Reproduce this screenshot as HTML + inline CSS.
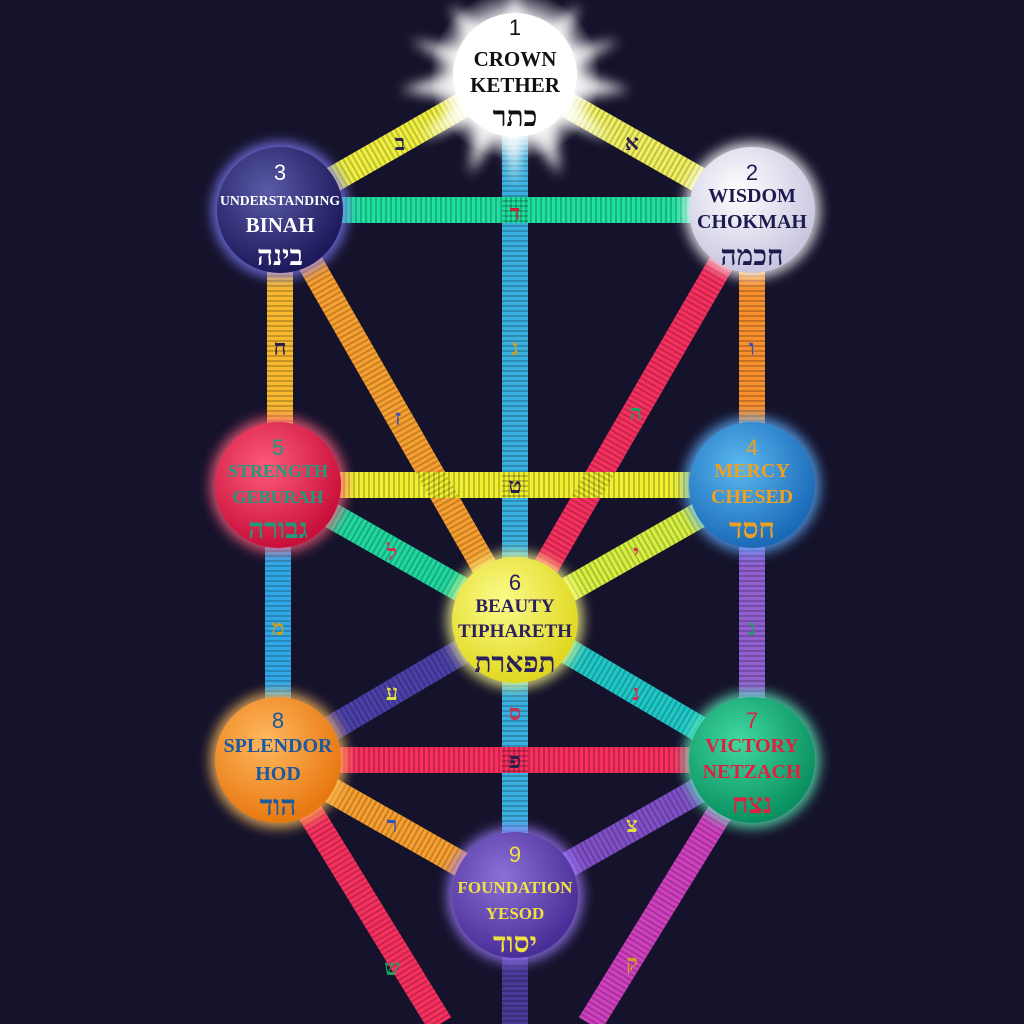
<!DOCTYPE html><html><head><meta charset="utf-8"><style>
html,body{margin:0;padding:0;background:#15122b;}
svg{display:block}
text{font-family:"Liberation Serif",serif;font-weight:bold;text-anchor:middle}
.h{font-family:"Liberation Serif","Noto Serif CJK SC",serif;font-size:28px}
.n{font-weight:normal;font-family:"Liberation Sans",sans-serif;font-size:22px}
.pl{font-size:22px;fill:#2a2050;font-family:"Liberation Serif",serif}
</style></head><body>
<svg width="1024" height="1024" viewBox="0 0 1024 1024">
<defs>
<radialGradient id="gk" cx="50%" cy="50%" r="50%"><stop offset="0.55" stop-color="#fff"/><stop offset="0.7" stop-color="#fff" stop-opacity="0.8"/><stop offset="1" stop-color="#fff" stop-opacity="0"/></radialGradient>
<radialGradient id="g3" cx="40%" cy="35%" r="65%"><stop offset="0" stop-color="#5a5aa8"/><stop offset="1" stop-color="#1c1a5a"/></radialGradient>
<radialGradient id="g2" cx="40%" cy="35%" r="65%"><stop offset="0" stop-color="#ffffff"/><stop offset="1" stop-color="#c8c6e0"/></radialGradient>
<radialGradient id="g5" cx="40%" cy="35%" r="65%"><stop offset="0" stop-color="#ff5a7a"/><stop offset="1" stop-color="#c8103a"/></radialGradient>
<radialGradient id="g4" cx="40%" cy="35%" r="65%"><stop offset="0" stop-color="#5ab8f0"/><stop offset="1" stop-color="#1a6ab8"/></radialGradient>
<radialGradient id="g6" cx="40%" cy="35%" r="65%"><stop offset="0" stop-color="#fbfb8a"/><stop offset="1" stop-color="#e0d820"/></radialGradient>
<radialGradient id="g8" cx="40%" cy="35%" r="65%"><stop offset="0" stop-color="#ffb860"/><stop offset="1" stop-color="#e87810"/></radialGradient>
<radialGradient id="g7" cx="40%" cy="35%" r="65%"><stop offset="0" stop-color="#40d8a0"/><stop offset="1" stop-color="#0a9060"/></radialGradient>
<radialGradient id="g9" cx="40%" cy="35%" r="65%"><stop offset="0" stop-color="#8a70d8"/><stop offset="1" stop-color="#4a2e98"/></radialGradient>
<filter id="glow" x="-50%" y="-50%" width="200%" height="200%"><feGaussianBlur stdDeviation="6"/></filter>
</defs>
<rect width="1024" height="1024" fill="#15122b"/>
<g stroke-width="26" stroke-linecap="butt" fill="none">
<line x1="515" y1="100" x2="515" y2="1024" stroke="#3ab0e0"/>
<line x1="515" y1="860" x2="515" y2="1024" stroke="#4a3a98"/>
<line x1="515" y1="75" x2="280" y2="210" stroke="#f0f040"/>
<line x1="515" y1="75" x2="752" y2="210" stroke="#f0f060"/>
<line x1="280" y1="210" x2="752" y2="210" stroke="#20e0a0"/>
<line x1="280" y1="210" x2="280" y2="485" stroke="#f8b830"/>
<line x1="752" y1="210" x2="752" y2="485" stroke="#f89030"/>
<line x1="280" y1="210" x2="515" y2="620" stroke="#f8a030"/>
<line x1="752" y1="210" x2="515" y2="620" stroke="#f83060"/>
<line x1="278" y1="485" x2="752" y2="485" stroke="#f0f030"/>
<line x1="278" y1="485" x2="515" y2="620" stroke="#20d8a0"/>
<line x1="752" y1="485" x2="515" y2="620" stroke="#d8f040"/>
<line x1="278" y1="485" x2="278" y2="760" stroke="#30a8e8"/>
<line x1="752" y1="485" x2="752" y2="760" stroke="#9060d0"/>
<line x1="515" y1="620" x2="278" y2="760" stroke="#4a40a8"/>
<line x1="515" y1="620" x2="752" y2="760" stroke="#20c8c8"/>
<line x1="278" y1="760" x2="752" y2="760" stroke="#f83060"/>
<line x1="278" y1="760" x2="515" y2="895" stroke="#f8a030"/>
<line x1="752" y1="760" x2="515" y2="895" stroke="#8050c8"/>
<line x1="278" y1="760" x2="440" y2="1024" stroke="#f83060"/>
<line x1="752" y1="760" x2="590" y2="1024" stroke="#d040c0"/>
</g>
<g stroke-width="26" fill="none" stroke="#000" stroke-opacity="0.2" stroke-dasharray="2 3">
<line x1="515" y1="100" x2="515" y2="1024"/>
<line x1="515" y1="75" x2="280" y2="210"/>
<line x1="515" y1="75" x2="752" y2="210"/>
<line x1="280" y1="210" x2="752" y2="210"/>
<line x1="280" y1="210" x2="280" y2="485"/>
<line x1="752" y1="210" x2="752" y2="485"/>
<line x1="280" y1="210" x2="515" y2="620"/>
<line x1="752" y1="210" x2="515" y2="620"/>
<line x1="278" y1="485" x2="752" y2="485"/>
<line x1="278" y1="485" x2="515" y2="620"/>
<line x1="752" y1="485" x2="515" y2="620"/>
<line x1="278" y1="485" x2="278" y2="760"/>
<line x1="752" y1="485" x2="752" y2="760"/>
<line x1="515" y1="620" x2="278" y2="760"/>
<line x1="515" y1="620" x2="752" y2="760"/>
<line x1="278" y1="760" x2="752" y2="760"/>
<line x1="278" y1="760" x2="515" y2="895"/>
<line x1="752" y1="760" x2="515" y2="895"/>
<line x1="278" y1="760" x2="440" y2="1024"/>
<line x1="752" y1="760" x2="590" y2="1024"/>
</g>
<g class="pl">
<text x="400" y="150">ב</text><text x="632" y="150">א</text><text x="515" y="220" fill="#d02030">ד</text>
<text x="515" y="355" fill="#d0a020">ג</text><text x="280" y="355">ח</text><text x="752" y="355" fill="#3050c0">ו</text>
<text x="398" y="425" fill="#3050c0">ז</text><text x="636" y="420" fill="#20a060">ה</text>
<text x="515" y="493">ט</text><text x="392" y="560" fill="#d03050">ל</text><text x="636" y="560" fill="#d03050">י</text>
<text x="278" y="635" fill="#d0a020">מ</text><text x="752" y="635" fill="#20a060">נ</text>
<text x="392" y="700" fill="#e0e040">ע</text><text x="636" y="700" fill="#d03050">נ</text>
<text x="515" y="720" fill="#d03050">ס</text><text x="515" y="768">פ</text>
<text x="392" y="832" fill="#3050c0">ר</text><text x="632" y="832" fill="#e0e040">צ</text>
<text x="392" y="975" fill="#20a060">ש</text><text x="632" y="970" fill="#d0a020">ק</text>
</g>
<g fill="#fff" opacity="0.85" filter="url(#glow)">
<polygon points="515,-10 530,40 580,5 560,50 620,40 570,70 630,90 570,100 610,140 555,120 560,175 525,130 515,185 500,130 470,175 475,120 420,140 460,100 400,90 460,70 410,40 470,50 450,5 500,40"/>
</g>
<circle cx="515" cy="75" r="85" fill="url(#gk)"/>
<circle cx="515" cy="75" r="62" fill="#fff"/>
<g filter="url(#glow)" opacity="0.8">
<circle cx="280" cy="210" r="68" fill="#8080ff"/><circle cx="752" cy="210" r="68" fill="#fff"/>
<circle cx="278" cy="485" r="68" fill="#ff6080"/><circle cx="752" cy="485" r="68" fill="#60b0ff"/>
<circle cx="515" cy="620" r="68" fill="#ffff90"/><circle cx="278" cy="760" r="68" fill="#ffc060"/>
<circle cx="752" cy="760" r="68" fill="#60f0c0"/><circle cx="515" cy="895" r="68" fill="#a080ff"/>
</g>
<circle cx="280" cy="210" r="63" fill="url(#g3)"/><circle cx="752" cy="210" r="63" fill="url(#g2)"/>
<circle cx="278" cy="485" r="63" fill="url(#g5)"/><circle cx="752" cy="485" r="63" fill="url(#g4)"/>
<circle cx="515" cy="620" r="63" fill="url(#g6)"/><circle cx="278" cy="760" r="63" fill="url(#g8)"/>
<circle cx="752" cy="760" r="63" fill="url(#g7)"/><circle cx="515" cy="895" r="63" fill="url(#g9)"/>
<g fill="#111"><text class="n" x="515" y="35">1</text><text x="515" y="66" font-size="21">CROWN</text><text x="515" y="92" font-size="21">KETHER</text><text class="h" x="515" y="126">כתר</text></g>
<g fill="#fff"><text class="n" x="280" y="180">3</text><text x="280" y="205" font-size="14" textLength="120" lengthAdjust="spacingAndGlyphs">UNDERSTANDING</text><text x="280" y="232" font-size="21">BINAH</text><text class="h" x="280" y="265">בינה</text></g>
<g fill="#1e1a50"><text class="n" x="752" y="180">2</text><text x="752" y="202" font-size="20">WISDOM</text><text x="752" y="228" font-size="20">CHOKMAH</text><text class="h" x="752" y="265">חכמה</text></g>
<g fill="#1c9c7c"><text class="n" x="278" y="455">5</text><text x="278" y="477" font-size="18">STRENGTH</text><text x="278" y="503" font-size="18">GEBURAH</text><text class="h" x="278" y="538">גבורה</text></g>
<g fill="#f0a020"><text class="n" x="752" y="455">4</text><text x="752" y="477" font-size="20">MERCY</text><text x="752" y="503" font-size="20">CHESED</text><text class="h" x="752" y="538">חסד</text></g>
<g fill="#2a2060"><text class="n" x="515" y="590">6</text><text x="515" y="612" font-size="19">BEAUTY</text><text x="515" y="637" font-size="19">TIPHARETH</text><text class="h" x="515" y="672">תפארת</text></g>
<g fill="#1a5aa0"><text class="n" x="278" y="728">8</text><text x="278" y="752" font-size="20">SPLENDOR</text><text x="278" y="780" font-size="20">HOD</text><text class="h" x="278" y="815">הוד</text></g>
<g fill="#e02040"><text class="n" x="752" y="728">7</text><text x="752" y="752" font-size="20">VICTORY</text><text x="752" y="778" font-size="20">NETZACH</text><text class="h" x="752" y="813">נצח</text></g>
<g fill="#f0e040"><text class="n" x="515" y="862">9</text><text x="515" y="893" font-size="17">FOUNDATION</text><text x="515" y="919" font-size="17">YESOD</text><text class="h" x="515" y="952">יסוד</text></g>
</svg>
</body></html>
